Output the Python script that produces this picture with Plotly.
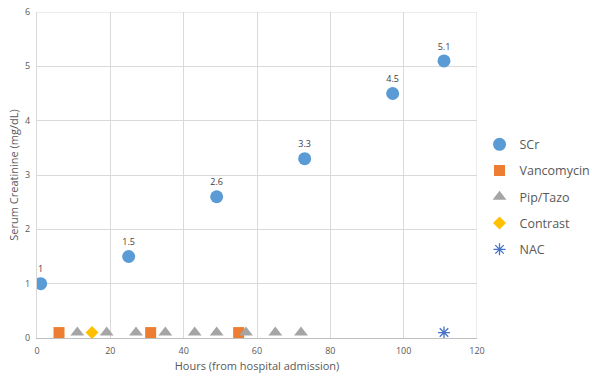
import plotly.graph_objects as go

scr_hours = [1, 25, 49, 73, 97, 111]
scr_values = [1, 1.5, 2.6, 3.3, 4.5, 5.1]
vanc_hours = [6, 31, 55]
vanc_values = [0.1, 0.1, 0.1]
pip_hours = [11, 19, 27, 35, 43, 49, 57, 65, 72]
pip_values = [0.1] * 9
contrast_hours = [15]
contrast_values = [0.1]
nac_hours = [111]
nac_values = [0.1]

font = "Open Sans, Liberation Sans, sans-serif"
grey = "#595959"

fig = go.Figure()
fig.add_trace(go.Scatter(x=scr_hours, y=scr_values, mode="markers+text", name="SCr",
                         text=[str(v) for v in scr_values], textposition="top center",
                         textfont=dict(size=9, color="#404040"),
                         marker=dict(symbol="circle", size=13, color="#5b9bd5"),
                         legendgroup="a"))
fig.add_trace(go.Scatter(x=vanc_hours, y=vanc_values, mode="markers", name="Vancomycin",
                         marker=dict(symbol="square", size=11, color="#ed7d31"), legendgroup="b"))
fig.add_trace(go.Scatter(x=pip_hours, y=pip_values, mode="markers", name="Pip/Tazo",
                         marker=dict(symbol="triangle-up", size=12, color="#a5a5a5"), legendgroup="c"))
fig.add_trace(go.Scatter(x=contrast_hours, y=contrast_values, mode="markers", name="Contrast",
                         marker=dict(symbol="diamond", size=10, color="#ffc000"), legendgroup="d"))
fig.add_trace(go.Scatter(x=nac_hours, y=nac_values, mode="markers", name="NAC",
                         marker=dict(symbol="asterisk-open", size=10, color="#4472c4",
                                     line=dict(width=1.3, color="#4472c4")), legendgroup="e"))

fig.update_layout(
    width=592, height=385,
    margin=dict(l=37, r=115, t=12, b=47),
    paper_bgcolor="white", plot_bgcolor="white",
    font=dict(family=font, size=9, color=grey),
    xaxis=dict(range=[0, 120], dtick=20, showgrid=True, gridcolor="#d9d9d9", gridwidth=1,
               zeroline=False, showline=True, linecolor="#bfbfbf", mirror=False,
               ticks="", tickfont=dict(size=9, color=grey), automargin=False,
               ticklabelstandoff=4,
               title=dict(text="Hours (from hospital admission)", font=dict(size=11, color=grey), standoff=6)),
    yaxis=dict(range=[0, 6], dtick=1, showgrid=True, gridcolor="#d9d9d9", gridwidth=1,
               zeroline=False, showline=True, linecolor="#d9d9d9", automargin=False,
               ticks="", tickfont=dict(size=9, color=grey), ticklabelstandoff=4,
               title=dict(text="Serum Creatinine (mg/dL)", font=dict(size=11, color=grey), standoff=4)),
    legend=dict(xref="container", yref="container", x=0.81, y=0.663, yanchor="top", xanchor="left",
                font=dict(size=12.5, color=grey),
                tracegroupgap=7, itemwidth=30, bgcolor="rgba(0,0,0,0)"),
    showlegend=True,
)
fig.add_shape(type="line", xref="x", yref="y", x0=120, x1=120, y0=0, y1=6, line=dict(color="#d9d9d9", width=1))
fig.add_shape(type="line", xref="x", yref="y", x0=0, x1=120, y0=6, y1=6, line=dict(color="#d9d9d9", width=1))

fig.write_html("out.html", post_script="document.body.style.margin='0';",
               config={"displayModeBar": False})
